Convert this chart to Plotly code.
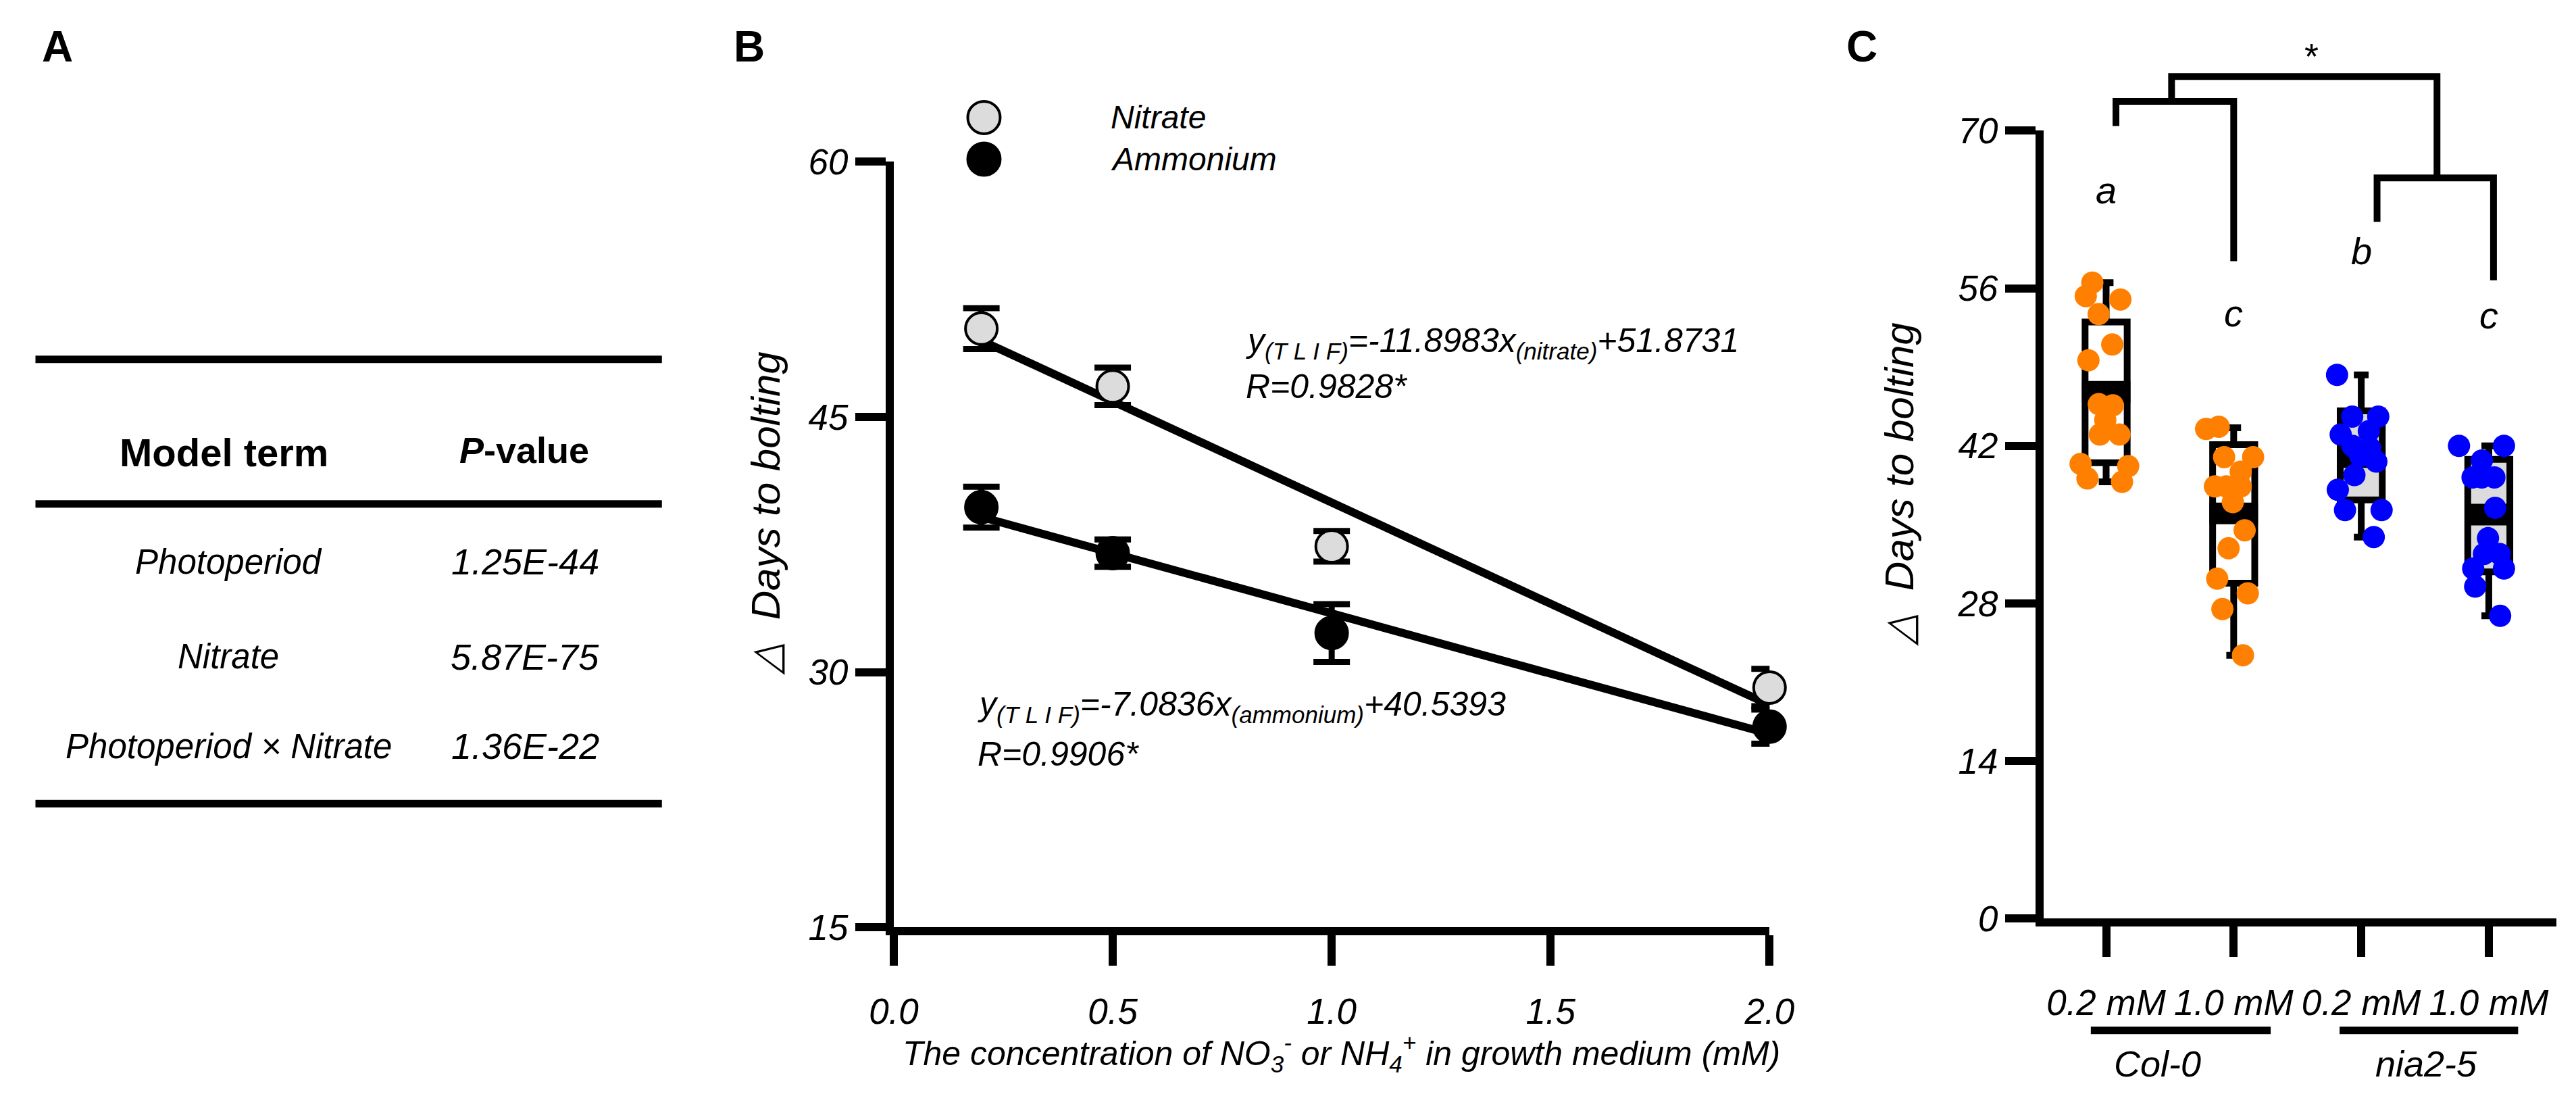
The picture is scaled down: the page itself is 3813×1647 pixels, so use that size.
import plotly.graph_objects as go

FONT = "Liberation Sans, Arial, Helvetica, sans-serif"

# ---- Panel A: model terms and P-values ----
MODEL_TERMS = ["Photoperiod", "Nitrate", "Photoperiod × Nitrate"]
P_VALUES = ["1.25E-44", "5.87E-75", "1.36E-22"]

# ---- Panel B: days to bolting vs. N concentration (mean +/- error) ----
CONC = [0.2, 0.5, 1.0, 2.0]
NITRATE_MEAN = [50.2, 46.8, 37.4, 29.1]
NITRATE_ERR = [1.2, 1.1, 0.9, 1.1]
AMMONIUM_MEAN = [39.7, 37.0, 32.3, 26.8]
AMMONIUM_ERR = [1.2, 0.8, 1.7, 1.0]
NITRATE_FIT = (-11.8983, 51.8731)   # slope, intercept
AMMONIUM_FIT = (-7.0836, 40.5393)
B_XTICKS = [0.0, 0.5, 1.0, 1.5, 2.0]
B_YTICKS = [15, 30, 45, 60]

# ---- Panel C: individual plants + box summary ----
C_LABELS = ["0.2 mM", "1.0 mM", "0.2 mM", "1.0 mM"]
COL0_02 = [56.5, 55.3, 55.0, 53.7, 51.0, 49.6, 45.7, 45.6, 44.3, 43.0, 43.0, 40.4, 40.2, 39.1, 38.8]
COL0_10 = [43.7, 43.5, 41.0, 41.0, 39.7, 38.4, 38.4, 38.4, 37.0, 34.5, 32.9, 30.2, 28.9, 27.5, 23.4]
NIA_02 = [48.3, 44.6, 44.6, 43.3, 43.0, 42.0, 41.8, 41.1, 40.6, 39.4, 38.1, 36.3, 36.3, 33.9]
NIA_10 = [42.0, 42.0, 40.7, 39.2, 39.2, 39.2, 36.5, 33.8, 32.4, 32.4, 31.1, 31.1, 29.5, 26.9]
BOX_Q1 = [40.5, 29.8, 37.2, 30.8]
BOX_MED = [46.8, 36.0, 41.0, 35.9]
BOX_Q3 = [53.0, 42.1, 45.1, 40.8]
BOX_LO = [38.8, 23.4, 33.9, 26.9]
BOX_HI = [56.5, 43.6, 48.3, 42.0]
LETTERS = ["a", "c", "b", "c"]
LETTER_Y = [64.7, 53.8, 59.3, 53.6]
C_YTICKS = [0, 14, 28, 42, 56, 70]

ORANGE = "#ff8000"
BLUE = "#0000ff"

# subplot placement (paper coords)
B_X_DOMAIN = [0.3418, 0.6885]
B_Y_DOMAIN = [0.1591, 0.8725]
C_X_DOMAIN = [0.797, 1.0]
C_Y_DOMAIN = [0.1672, 0.9016]
C_X_RANGE = [-0.49, 3.53]
C_Y_RANGE = [0, 70]


def c_paper(v):
    # panel C data value -> paper y (for marks drawn above the axis range)
    lo, hi = C_Y_DOMAIN
    return lo + (v - C_Y_RANGE[0]) / (C_Y_RANGE[1] - C_Y_RANGE[0]) * (hi - lo)


def txt(size, italic=True, bold=False):
    return dict(family=FONT, size=size, color="black",
                style="italic" if italic else "normal",
                weight="bold" if bold else "normal")


def note(text, x, y, size, xref="paper", yref="paper", xanchor="center",
         italic=True, bold=False, angle=0):
    return dict(text=text, x=x, y=y, xref=xref, yref=yref, xanchor=xanchor,
                yanchor="middle", textangle=angle, showarrow=False,
                font=txt(size, italic, bold))


fig = go.Figure()

# --- Panel B: regression lines first, then the means ---
for slope, icpt in (NITRATE_FIT, AMMONIUM_FIT):
    xs = [min(CONC), max(CONC)]
    fig.add_trace(go.Scatter(
        x=xs, y=[slope * v + icpt for v in xs], mode="lines",
        line=dict(color="black", width=12), hoverinfo="skip",
        xaxis="x", yaxis="y"))

for means, errs, fill, name in ((NITRATE_MEAN, NITRATE_ERR, "#dcdcdc", "Nitrate"),
                                (AMMONIUM_MEAN, AMMONIUM_ERR, "black", "Ammonium")):
    fig.add_trace(go.Scatter(
        x=CONC, y=means, mode="markers", name=name,
        marker=dict(size=47, color=fill, line=dict(color="black", width=4)),
        error_y=dict(type="data", array=errs, color="black", thickness=9, width=27),
        cliponaxis=False, xaxis="x", yaxis="y"))

# --- Panel C: boxes, thick median bars, then the points ---
groups = list(range(len(C_LABELS)))
for idx, fill in ((groups[:2], "white"), (groups[2:], "#dcdcdc")):
    fig.add_trace(go.Box(
        x=idx,
        q1=[BOX_Q1[i] for i in idx], median=[BOX_MED[i] for i in idx],
        q3=[BOX_Q3[i] for i in idx],
        lowerfence=[BOX_LO[i] for i in idx], upperfence=[BOX_HI[i] for i in idx],
        fillcolor=fill, line=dict(color="black", width=10),
        whiskerwidth=0.35, width=0.33, boxpoints=False,
        hoverinfo="skip", xaxis="x2", yaxis="y2"))

fig.add_trace(go.Box(
    x=groups, q1=BOX_MED, median=BOX_MED, q3=BOX_MED,
    lowerfence=BOX_MED, upperfence=BOX_MED,
    fillcolor="black", line=dict(color="black", width=32),
    whiskerwidth=0, width=0.38, boxpoints=False,
    hoverinfo="skip", xaxis="x2", yaxis="y2"))

for gi, vals, col in ((0, COL0_02, ORANGE), (1, COL0_10, ORANGE),
                      (2, NIA_02, BLUE), (3, NIA_10, BLUE)):
    fig.add_trace(go.Box(
        x=[gi] * len(vals), y=vals, boxpoints="all", jitter=1.0, pointpos=0,
        width=0.48, fillcolor="rgba(0,0,0,0)",
        line=dict(color="rgba(0,0,0,0)", width=0),
        marker=dict(color=col, size=33, line=dict(width=0)),
        xaxis="x2", yaxis="y2"))

axis_style = dict(showline=True, linecolor="black", linewidth=12,
                  ticks="outside", ticklen=45, tickwidth=12, tickcolor="black",
                  showgrid=False, zeroline=False, tickfont=txt(53))

shapes = []
annotations = []

# panel letters
for label, x in (("A", 0.0108), ("B", 0.2846), ("C", 0.725)):
    annotations.append(note(label, x, 0.980, 64, italic=False, bold=True))

# --- Panel A table ---
for y in (0.6885, 0.5537, 0.2744):
    shapes.append(dict(type="line", xref="paper", yref="paper", x0=0.002, x1=0.250,
                       y0=y, y1=y, line=dict(color="black", width=11)))
annotations.append(note("Model term", 0.0765, 0.602, 58, italic=False, bold=True))
annotations.append(note("<i>P</i>-value", 0.1955, 0.604, 54, italic=False, bold=True))
for term, pv, y in zip(MODEL_TERMS, P_VALUES, (0.500, 0.4115, 0.328)):
    annotations.append(note(term, 0.0784, y, 51))
    annotations.append(note(pv, 0.1958, y, 54))

# --- Panel B legend, equations, titles ---
for fill, y, name in (("#dcdcdc", 0.9138, "Nitrate"), ("black", 0.875, "Ammonium")):
    shapes.append(dict(type="circle", xref="paper", yref="paper",
                       xsizemode="pixel", ysizemode="pixel", xanchor=0.3775, yanchor=y,
                       x0=-24, x1=24, y0=-24, y1=24, fillcolor=fill,
                       line=dict(color="black", width=4)))
    annotations.append(note(name, 0.4272, y, 48, xanchor="left"))

annotations += [
    note("y<sub>(T L I F)</sub>=-11.8983x<sub>(nitrate)</sub>+51.8731",
         0.4805, 0.7037, 50, xanchor="left"),
    note("R=0.9828*", 0.4805, 0.663, 50, xanchor="left"),
    note("y<sub>(T L I F)</sub>=-7.0836x<sub>(ammonium)</sub>+40.5393",
         0.3743, 0.365, 50, xanchor="left"),
    note("R=0.9906*", 0.3743, 0.3206, 50, xanchor="left"),
    note("The concentration of NO<sub>3</sub><sup>-</sup> or NH<sub>4</sub><sup>+</sup>"
         " in growth medium (mM)", 0.519, 0.042, 50),
    note("△  Days to bolting", 0.291, 0.545, 60, angle=-90),
    note("△  Days to bolting", 0.740, 0.572, 60, angle=-90),
]

# --- Panel C letters, brackets, genotype bars ---
for gi, (letter, y) in enumerate(zip(LETTERS, LETTER_Y)):
    annotations.append(note(letter, gi, y, 56, xref="x2", yref="y2"))

# (left x, right x, left leg end, bar level, right leg end)
BRACKETS = [(0.077, 1.0, 70.4, 72.6, 58.4),
            (2.124, 3.037, 61.9, 65.8, 56.7),
            (0.513, 2.594, 72.6, 74.8, 65.8)]
for x0, x1, yl, yt, yr in BRACKETS:
    shapes.append(dict(type="path", xref="x2", yref="paper",
                       path=f"M {x0},{c_paper(yl)} L {x0},{c_paper(yt)} "
                            f"L {x1},{c_paper(yt)} L {x1},{c_paper(yr)}",
                       line=dict(color="black", width=10)))
annotations.append(note("*", 1.61, c_paper(76.6), 54, xref="x2", italic=False))

for x0, x1, xt, name in ((-0.12, 1.29, 0.40, "Col-0"), (1.83, 3.23, 2.51, "nia2-5")):
    shapes.append(dict(type="line", xref="x2", yref="paper", x0=x0, x1=x1,
                       y0=0.0631, y1=0.0631, line=dict(color="black", width=11)))
    annotations.append(note(name, xt, 0.032, 54, xref="x2"))

fig.update_layout(
    width=3813, height=1647,
    margin=dict(l=0, r=0, t=0, b=0),
    paper_bgcolor="white", plot_bgcolor="rgba(0,0,0,0)",
    showlegend=False, boxmode="overlay",
    xaxis=dict(domain=B_X_DOMAIN, range=[0, 2], tickvals=B_XTICKS, tickformat=".1f",
               anchor="y", ticklabelstandoff=22, **axis_style),
    yaxis=dict(domain=B_Y_DOMAIN, range=[15, 60], tickvals=B_YTICKS,
               anchor="x", **axis_style),
    xaxis2=dict(domain=C_X_DOMAIN, range=C_X_RANGE, tickvals=groups, ticktext=C_LABELS,
                anchor="y2", ticklabelstandoff=22, **axis_style),
    yaxis2=dict(domain=C_Y_DOMAIN, range=C_Y_RANGE, tickvals=C_YTICKS,
                anchor="x2", **axis_style),
    shapes=shapes,
    annotations=annotations,
)

fig.write_html("out.html")
